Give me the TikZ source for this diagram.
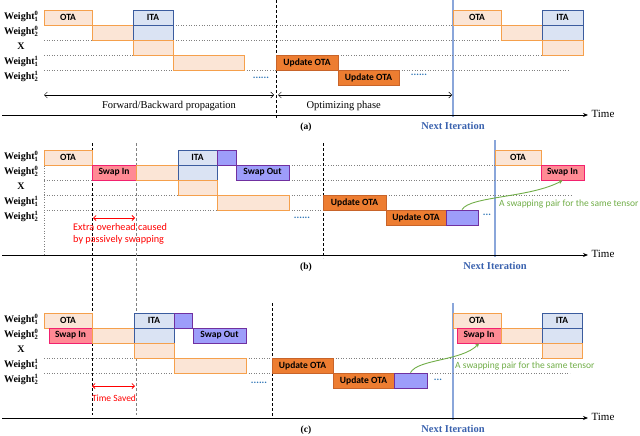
\documentclass[tikz,border=0pt]{standalone}
\usepackage{fontspec}
\setmainfont{Liberation Serif}
\setsansfont{Carlito}
\usetikzlibrary{arrows.meta}
\definecolor{lightorange}{HTML}{FBE5D6}
\definecolor{orangeline}{HTML}{F5A04C}
\definecolor{darkorange}{HTML}{ED7D31}
\definecolor{darkorangeline}{HTML}{C8642A}
\definecolor{itafill}{HTML}{DAE3F3}
\definecolor{italine}{HTML}{3B5C9E}
\definecolor{purfill}{HTML}{9D9DFA}
\definecolor{purline}{HTML}{7030A0}
\definecolor{pinkfill}{HTML}{FF8A94}
\definecolor{pinkline}{HTML}{F2216E}
\definecolor{nextblue}{HTML}{8AA6DA}
\definecolor{nexttext}{HTML}{3A62AE}
\definecolor{dotblue}{HTML}{2E75B6}
\definecolor{pairgreen}{HTML}{70AD47}
% box from x1 to x2 and y1 to y2 (y grows downwards)
\def\blk#1#2#3#4#5#6#7{%
  \node[#1,minimum width={#4-#3},minimum height={#6-#5}] (#2) at ({(#3+#4)/2},{(#5+#6)/2}) {#7};}
% weight with index below and layer above
\def\wgt#1#2{Weight\rlap{\raisebox{3.6pt}{\fontsize{6.5}{6.5}\selectfont #2}}\raisebox{-2pt}{\fontsize{6.5}{6.5}\selectfont #1}}

\begin{document}
\begin{tikzpicture}[x=1pt,y=-1pt,
  box/.style={draw,line width=0.8pt,inner sep=0pt,
    font=\sffamily\bfseries\fontsize{9.5}{10}\selectfont},
  light/.style={box,fill=lightorange,draw=orangeline},
  dark/.style={box,fill=darkorange,draw=darkorangeline},
  itabox/.style={box,fill=itafill,draw=italine},
  purbox/.style={box,fill=purfill,draw=purline},
  swapbox/.style={box,fill=pinkfill,draw=pinkline},
  sep/.style={gray,dotted,line width=0.6pt},
  vdash/.style={dash pattern=on 3pt off 2pt,line width=0.7pt},
  nextline/.style={nextblue,line width=1.4pt},
  axis/.style={-{Stealth[length=5pt,width=4pt]},line width=0.9pt},
  span/.style={{Straight Barb[length=3pt,width=6pt]}-{Straight Barb[length=3pt,width=6pt]},line width=0.5pt},
  saved/.style={red,{Straight Barb[length=2.5pt,width=5pt]}-{Straight Barb[length=2.5pt,width=5pt]},line width=0.8pt},
  pair/.style={pairgreen,-{Stealth[length=4pt,width=4pt]},line width=0.9pt},
  rowlabel/.style={inner sep=0pt,font=\bfseries\fontsize{10}{12}\selectfont},
  dots/.style={dotblue,inner sep=0pt,font=\sffamily\bfseries\fontsize{10}{10}\selectfont},
  note/.style={inner sep=0pt,font=\sffamily\fontsize{9.5}{10.5}\selectfont},
]
\useasboundingbox (0,0) rectangle (640,436);

% rows, axis and next iteration of every panel
\foreach \p/\t/\nx in {a/10/453,b/150/495,c/313/453} {
  \begin{scope}[shift={(0,\t)}]
    \foreach \lbl [count=\r from 0] in {{\wgt{1}{0}},{\wgt{2}{0}},X,{\wgt{1}{1}},{\wgt{2}{1}}}
      \node[rowlabel] (\p-lbl\r) at (21,{6.5+15*\r}) {\lbl};
    \draw[nextline] (\nx,-10) -- (\nx,107);
    \coordinate (\p-axl) at (2,105);
    \coordinate (\p-axr) at (588,105);
    \draw[axis] (\p-axl) -- (\p-axr);
    \node[font=\fontsize{11}{13}\selectfont] (\p-time) at (603,104) {Time};
    \node[font=\bfseries\fontsize{9.5}{11}\selectfont] (\p-cap) at (306,117) {(\p)};
    \node[nexttext,font=\bfseries\fontsize{10.5}{12}\selectfont] (\p-next) at (\nx,116) {Next Iteration};
  \end{scope}
}

% dashed lines shared by (b) and (c)
\draw[vdash] (92,143) -- (92,415);
\draw[vdash,gray] (136,143) -- (136,415);

% (a)
\begin{scope}[shift={(0,10)}]
\foreach \ya/\xa/\xb in {15/173/453,30/44/92,30/173/501,45/44/133,45/338/542,60/44/173,60/244/276,60/399/570}
  \draw[sep] (\xa,\ya) -- (\xb,\ya);
\draw[vdash] (276,-10) -- (276,108);
\blk{light}{a-ota}{44}{92}{0}{15}{OTA}
\blk{light}{a-w2}{92}{133}{15}{30}{}
\blk{itabox}{a-ita}{133}{173}{0}{15}{ITA}
\blk{itabox}{a-ita2}{133}{173}{15}{30}{}
\blk{light}{a-x}{133}{173}{30}{45}{}
\blk{light}{a-w11}{173}{244}{45}{60}{}
\blk{dark}{a-up1}{276}{338}{45}{60}{Update OTA}
\blk{dark}{a-up2}{338}{399}{60}{75}{Update OTA}
\blk{light}{a-ota2}{453}{501}{0}{15}{OTA}
\blk{light}{a-w22}{501}{542}{15}{30}{}
\blk{itabox}{a-ita3}{542}{583}{0}{15}{ITA}
\blk{itabox}{a-ita4}{542}{583}{15}{30}{}
\blk{light}{a-x2}{542}{583}{30}{45}{}
\node[dots] (a-dots1) at (261,68) {......};
\node[dots] (a-dots2) at (419,65) {......};
\coordinate (a-fb-l) at (44,85);
\coordinate (a-fb-r) at (274,85);
\coordinate (a-op-l) at (278,85);
\coordinate (a-op-r) at (452,85);
\draw[span] (a-fb-l) -- (a-fb-r);
\draw[span] (a-op-l) -- (a-op-r);
\node[font=\fontsize{10.5}{12}\selectfont] (a-fb) at (169,96) {Forward/Backward propagation};
\node[font=\fontsize{10.5}{12}\selectfont,anchor=west] (a-op) at (303,96) {Optimizing phase};
\end{scope}

% (b)
\begin{scope}[shift={(0,150)}]
\foreach \ya/\xa/\xb in {15/289/495,30/44/92,30/289/541,45/44/178,45/289/323,45/386/572,60/44/217,60/289/323}
  \draw[sep] (\xa,\ya) -- (\xb,\ya);
\draw[sep] (44,0) -- (44,106);
\draw[vdash] (323,-7) -- (323,108);
\blk{light}{b-ota}{44}{92}{0}{15}{OTA}
\blk{swapbox}{b-swin}{92}{136}{15}{30}{Swap In}
\blk{light}{b-w2}{136}{178}{15}{30}{}
\blk{itabox}{b-ita}{178}{217}{0}{15}{ITA}
\blk{itabox}{b-ita2}{178}{217}{15}{30}{}
\blk{purbox}{b-pur}{217}{236}{0}{15}{}
\blk{purbox}{b-swout}{236}{289}{15}{30}{Swap Out}
\blk{light}{b-x}{178}{217}{30}{45}{}
\blk{light}{b-w11}{217}{289}{45}{60}{}
\blk{dark}{b-up1}{323}{386}{45}{60}{Update OTA}
\blk{dark}{b-up2}{386}{446}{60}{75}{Update OTA}
\blk{purbox}{b-pur2}{446}{478}{60}{75}{}
\blk{light}{b-ota2}{495}{541}{0}{15}{OTA}
\blk{swapbox}{b-swin2}{541}{584}{15}{30}{Swap In}
\node[dots] (b-dots1) at (302,68) {......};
\node[dots] (b-dots2) at (487,65) {...};
\draw[pair] (b-pur2.north) .. controls (470,46) and (530,48) .. (b-swin2.south);
\node[note,pairgreen,anchor=west] (b-pair) at (499,54) {A swapping pair for the same tensor};
\coordinate (b-ov-l) at (93,68);
\coordinate (b-ov-r) at (135,68);
\draw[saved] (b-ov-l) -- (b-ov-r);
\node[note,red,align=left,anchor=north west,font=\sffamily\fontsize{10.2}{12}\selectfont] (b-extra) at (73,73) {Extra overhead caused\\by passively swapping};
\end{scope}

% (c)
\begin{scope}[shift={(0,313)}]
\foreach \ya/\xa/\xb in {45/44/134,45/246/272,45/333/570,60/44/174,60/246/272,60/427/570}
  \draw[sep] (\xa,\ya) -- (\xb,\ya);
\draw[vdash] (272,-10) -- (272,105);
\blk{light}{c-ota}{44}{92}{0}{15}{OTA}
\blk{swapbox}{c-swin}{49}{92}{15}{30}{Swap In}
\blk{light}{c-w2}{92}{134}{15}{30}{}
\blk{itabox}{c-ita}{134}{174}{0}{15}{ITA}
\blk{itabox}{c-ita2}{134}{174}{15}{30}{}
\blk{purbox}{c-pur}{174}{192}{0}{15}{}
\blk{purbox}{c-swout}{193}{246}{15}{30}{Swap Out}
\blk{light}{c-x}{134}{174}{30}{45}{}
\blk{light}{c-w11}{174}{246}{45}{60}{}
\blk{dark}{c-up1}{272}{333}{45}{60}{Update OTA}
\blk{dark}{c-up2}{333}{394}{60}{75}{Update OTA}
\blk{purbox}{c-pur2}{394}{427}{60}{75}{}
\blk{light}{c-ota2}{453}{501}{0}{15}{OTA}
\blk{swapbox}{c-swin2}{457}{501}{15}{30}{Swap In}
\blk{light}{c-w22}{501}{542}{15}{30}{}
\blk{itabox}{c-ita3}{542}{582}{0}{15}{ITA}
\blk{itabox}{c-ita4}{542}{582}{15}{30}{}
\blk{light}{c-x2}{542}{582}{30}{45}{}
\node[dots] (c-dots1) at (259,70) {......};
\node[dots] (c-dots2) at (438,67) {...};
\draw[pair] (c-pur2.north) .. controls (418,46) and (462,48) .. (c-swin2.south);
\node[note,pairgreen,anchor=west] (c-pair) at (455,53) {A swapping pair for the same tensor};
\coordinate (c-sv-l) at (92,73);
\coordinate (c-sv-r) at (135,73);
\draw[saved] (c-sv-l) -- (c-sv-r);
\node[note,red] (c-saved) at (114,85) {Time Saved};
\end{scope}
\end{tikzpicture}
\end{document}
